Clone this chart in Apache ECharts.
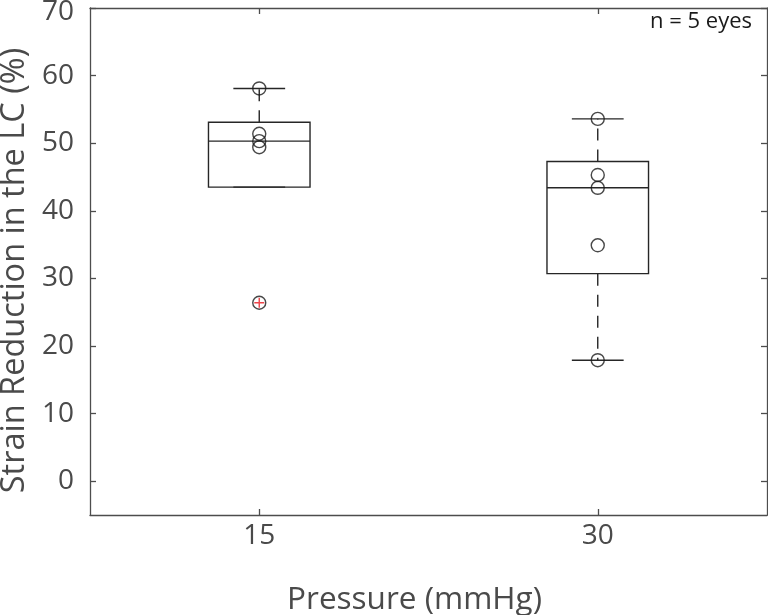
<!DOCTYPE html>
<html>
<head>
<meta charset="utf-8">
<script src="https://cdn.jsdelivr.net/npm/echarts@6/dist/echarts.min.js"></script>
<style>html,body{margin:0;padding:0;background:#fff;}#c{width:768px;height:615px;}</style>
</head>
<body>
<div id="c"></div>
<script>
var categories = ['15', '30'];
var whiskerLow = [43.5, 17.9];
var q1 = [43.5, 30.7];
var medians = [50.3, 43.4];
var q3 = [53.1, 47.3];
var whiskerHigh = [58.1, 53.6];
var points15 = [58.1, 51.4, 50.3, 49.4, 26.4];
var points30 = [53.6, 45.3, 43.4, 34.9, 17.9];
var outliers = [['15', 26.4]];
var yTicks = [0, 10, 20, 30, 40, 50, 60, 70];

var FONT = '"Open Sans", "Noto Sans", sans-serif';
var TEXT = '#4a4a4a';
var AXIS = '#4d4d4d';
var LINE = '#262626';

var boxData = categories.map(function (c, i) {
  return [i, whiskerLow[i], q1[i], medians[i], q3[i], whiskerHigh[i]];
});
var pointData = [];
points15.forEach(function (v) { pointData.push(['15', v]); });
points30.forEach(function (v) { pointData.push(['30', v]); });

function renderBox(params, api) {
  var idx = api.value(0);
  var band = api.size([1, 0])[0];
  var boxW = band * 0.3, capW = band * 0.153;
  var pLow = api.coord([idx, api.value(1)]);
  var pQ1 = api.coord([idx, api.value(2)]);
  var pMed = api.coord([idx, api.value(3)]);
  var pQ3 = api.coord([idx, api.value(4)]);
  var pHigh = api.coord([idx, api.value(5)]);
  var x = pQ1[0];
  var solid = { stroke: LINE, lineWidth: 1.4, fill: null };
  var dashed = { stroke: LINE, lineWidth: 1.4, lineDash: [12, 9], fill: null };
  var children = [
    { type: 'line', shape: { x1: x, y1: pQ3[1], x2: x, y2: pHigh[1] }, style: dashed },
    { type: 'line', shape: { x1: x, y1: pQ1[1], x2: x, y2: pLow[1] }, style: dashed },
    { type: 'line', shape: { x1: x - capW / 2, y1: pHigh[1], x2: x + capW / 2, y2: pHigh[1] }, style: solid },
    { type: 'line', shape: { x1: x - capW / 2, y1: pLow[1], x2: x + capW / 2, y2: pLow[1] }, style: solid },
    { type: 'rect', shape: { x: x - boxW / 2, y: pQ3[1], width: boxW, height: pQ1[1] - pQ3[1] }, style: solid },
    { type: 'line', shape: { x1: x - boxW / 2, y1: pMed[1], x2: x + boxW / 2, y2: pMed[1] }, style: solid }
  ];
  return { type: 'group', children: children };
}

var chart = echarts.init(document.getElementById('c'), null, { renderer: 'canvas' });
var yCommon = {
  type: 'value', min: -5, max: 70,
  splitLine: { show: false },
  axisLine: { show: true, onZero: false, lineStyle: { color: AXIS, width: 1.3 } },
  axisTick: { show: true, inside: true, length: 6, customValues: yTicks, lineStyle: { color: AXIS, width: 1.3 } },
  axisLabel: {
    color: TEXT, fontFamily: FONT, fontSize: 28, margin: 16, customValues: yTicks,
    formatter: function (v) { return v === 70 ? '{top|' + v + '}' : String(v); },
    rich: { top: { color: TEXT, fontFamily: FONT, fontSize: 28, padding: [9, 0, 0, 0] } }
  }
};
var xCommon = {
  type: 'category', data: categories, boundaryGap: true,
  axisLine: { show: true, onZero: false, lineStyle: { color: AXIS, width: 1.3 } },
  axisTick: { show: true, inside: true, alignWithLabel: true, length: 6, lineStyle: { color: AXIS, width: 1.3 } },
  splitLine: { show: false },
  axisLabel: { color: TEXT, fontFamily: FONT, fontSize: 28, margin: 7 }
};

chart.setOption({
  animation: false,
  backgroundColor: '#fff',
  grid: { left: 90, right: 1, top: 8, bottom: 100, containLabel: false, outerBoundsMode: 'none' },
  xAxis: [
    Object.assign({}, xCommon, {
      position: 'bottom',
      name: 'Pressure (mmHg)', nameLocation: 'middle', nameGap: 69,
      nameTextStyle: { color: TEXT, fontFamily: FONT, fontSize: 31.5, padding: [0, 28, 0, 0] }
    }),
    Object.assign({}, xCommon, { position: 'top', axisLabel: { show: false } })
  ],
  yAxis: [
    Object.assign({}, yCommon, {
      position: 'left',
      name: 'Strain Reduction in the LC (%)', nameLocation: 'middle', nameGap: 56,
      nameTextStyle: { color: TEXT, fontFamily: FONT, fontSize: 32.5, padding: [0, 18, 0, 0] }
    }),
    Object.assign({}, yCommon, { position: 'right', axisLabel: { show: false } })
  ],
  graphic: [{
    type: 'text', right: 16, top: 11,
    style: { text: 'n = 5 eyes', fill: '#1a1a1a', font: '22px ' + FONT }
  }],
  series: [
    {
      type: 'custom', xAxisIndex: 0, yAxisIndex: 0,
      renderItem: renderBox,
      encode: { x: 0, y: [1, 2, 3, 4, 5] },
      data: boxData, z: 2
    },
    {
      type: 'scatter', xAxisIndex: 0, yAxisIndex: 0,
      symbol: 'path://M0,-10L0,10M-10,0L10,0',
      symbolSize: 10,
      itemStyle: { color: 'none', borderColor: '#e8141a', borderWidth: 1.4 },
      data: outliers, z: 3
    },
    {
      type: 'scatter', xAxisIndex: 0, yAxisIndex: 0,
      symbol: 'circle', symbolSize: 13,
      itemStyle: { color: 'rgba(0,0,0,0)', borderColor: '#1a1a1a', borderWidth: 1.4 },
      data: pointData, z: 4
    }
  ]
});
</script>
</body>
</html>
